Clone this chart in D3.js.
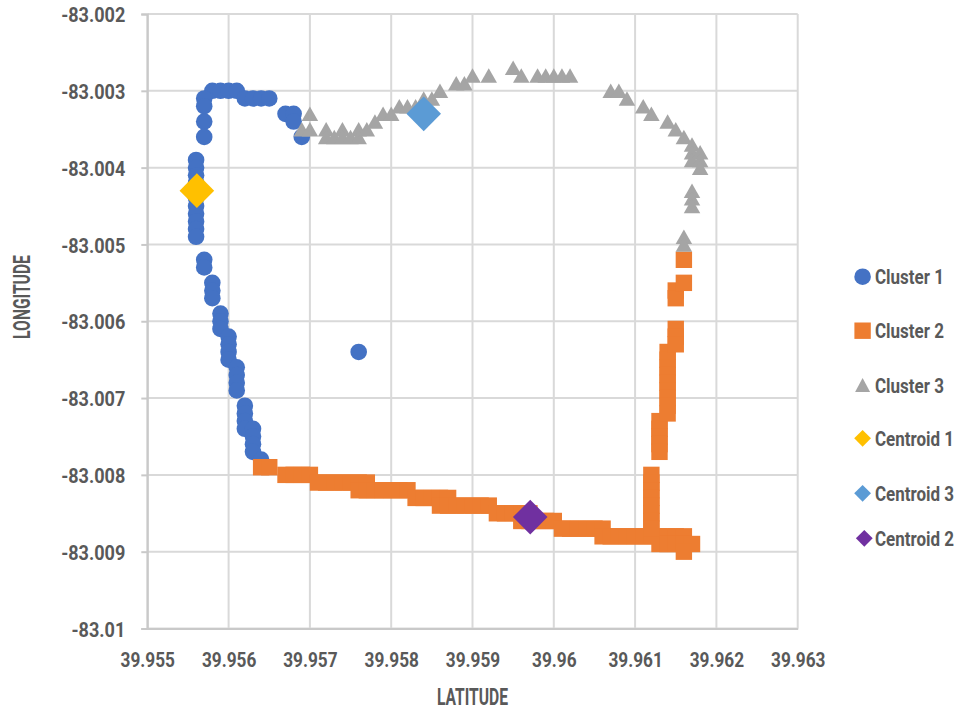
<!DOCTYPE html>
<html>
<head>
<meta charset="utf-8">
<script src="https://cdn.jsdelivr.net/npm/d3@7/dist/d3.min.js"></script>
<style>
  html, body { margin: 0; padding: 0; background: #ffffff; }
  svg text { font-family: Roboto, "Liberation Sans", sans-serif; font-weight: 700; fill: #595959; }
</style>
</head>
<body>
<svg id="chart" width="962" height="711"></svg>
<script>
// GPS fixes as [latitude, longitude]
const cluster1 = [
  [39.9558, -83.0030], [39.9559, -83.0030], [39.9560, -83.0030], [39.9561, -83.0030],
  [39.9557, -83.0031], [39.9562, -83.0031], [39.9563, -83.0031], [39.9564, -83.0031], [39.9565, -83.0031],
  [39.9557, -83.0032], [39.9557, -83.0034], [39.9557, -83.0036],
  [39.9567, -83.0033], [39.9568, -83.0033], [39.9568, -83.0034], [39.9569, -83.0036],
  [39.9556, -83.0039], [39.9556, -83.0040], [39.9556, -83.0041], [39.9556, -83.0042],
  [39.9556, -83.0043], [39.9556, -83.0044], [39.9556, -83.0045], [39.9556, -83.0046],
  [39.9556, -83.0047], [39.9556, -83.0048], [39.9556, -83.0049],
  [39.9557, -83.0052], [39.9557, -83.0053],
  [39.9558, -83.0055], [39.9558, -83.0056], [39.9558, -83.0057],
  [39.9559, -83.0059], [39.9559, -83.0060], [39.9559, -83.0061],
  [39.9560, -83.0062], [39.9560, -83.0063], [39.9560, -83.0064], [39.9560, -83.0065],
  [39.9561, -83.0066], [39.9561, -83.0067], [39.9561, -83.0068], [39.9561, -83.0069],
  [39.9562, -83.0071], [39.9562, -83.0072], [39.9562, -83.0073], [39.9562, -83.0074],
  [39.9563, -83.0074], [39.9563, -83.0075], [39.9563, -83.0076], [39.9563, -83.0077],
  [39.9564, -83.0078],
  [39.9576, -83.0064]
];

const cluster2 = [
  [39.9564, -83.0079], [39.9565, -83.0079],
  [39.9567, -83.0080], [39.9568, -83.0080], [39.9569, -83.0080], [39.9570, -83.0080],
  [39.9571, -83.0081], [39.9572, -83.0081], [39.9573, -83.0081], [39.9574, -83.0081],
  [39.9575, -83.0081], [39.9576, -83.0081], [39.9577, -83.0081],
  [39.9576, -83.0082], [39.9577, -83.0082], [39.9578, -83.0082], [39.9579, -83.0082],
  [39.9580, -83.0082], [39.9581, -83.0082], [39.9582, -83.0082],
  [39.9583, -83.0083], [39.9584, -83.0083], [39.9585, -83.0083], [39.9586, -83.0083], [39.9587, -83.0083],
  [39.9586, -83.0084], [39.9587, -83.0084], [39.9588, -83.0084], [39.9589, -83.0084],
  [39.9590, -83.0084], [39.9591, -83.0084], [39.9592, -83.0084],
  [39.9593, -83.0085], [39.9594, -83.0085], [39.9595, -83.0085], [39.9596, -83.0085], [39.9597, -83.0085],
  [39.9596, -83.0086], [39.9597, -83.0086], [39.9598, -83.0086], [39.9599, -83.0086], [39.9600, -83.0086],
  [39.9601, -83.0087], [39.9602, -83.0087], [39.9603, -83.0087], [39.9604, -83.0087],
  [39.9605, -83.0087], [39.9606, -83.0087],
  [39.9606, -83.0088], [39.9607, -83.0088], [39.9608, -83.0088], [39.9609, -83.0088],
  [39.9610, -83.0088], [39.9611, -83.0088], [39.9612, -83.0088], [39.9613, -83.0088],
  [39.9614, -83.0088], [39.9615, -83.0088], [39.9616, -83.0088],
  [39.9613, -83.0089], [39.9614, -83.0089], [39.9615, -83.0089], [39.9616, -83.0089], [39.9617, -83.0089],
  [39.9616, -83.0090],
  [39.9612, -83.0080], [39.9612, -83.0081], [39.9612, -83.0082], [39.9612, -83.0083],
  [39.9612, -83.0084], [39.9612, -83.0085], [39.9612, -83.0086], [39.9612, -83.0087],
  [39.9613, -83.0073], [39.9613, -83.0074], [39.9613, -83.0075], [39.9613, -83.0076], [39.9613, -83.0077],
  [39.9614, -83.0064], [39.9614, -83.0065], [39.9614, -83.0066], [39.9614, -83.0067], [39.9614, -83.0068],
  [39.9614, -83.0069], [39.9614, -83.0070], [39.9614, -83.0071], [39.9614, -83.0072],
  [39.9615, -83.0061], [39.9615, -83.0062], [39.9615, -83.0063],
  [39.9615, -83.0056], [39.9615, -83.0057],
  [39.9616, -83.0055],
  [39.9616, -83.0052]
];

const cluster3 = [
  [39.9570, -83.0033],
  [39.9569, -83.0035], [39.9570, -83.0035],
  [39.9572, -83.0035], [39.9574, -83.0035], [39.9576, -83.0035],
  [39.9572, -83.0036], [39.9573, -83.0036], [39.9574, -83.0036], [39.9575, -83.0036], [39.9576, -83.0036],
  [39.9577, -83.0035],
  [39.9578, -83.0034],
  [39.9579, -83.0033], [39.9580, -83.0033],
  [39.9581, -83.0032], [39.9582, -83.0032], [39.9583, -83.0032],
  [39.9584, -83.0031], [39.9585, -83.0031],
  [39.9586, -83.0030],
  [39.9588, -83.0029], [39.9589, -83.0029],
  [39.9590, -83.0028], [39.9592, -83.0028],
  [39.9595, -83.0027],
  [39.9596, -83.0028],
  [39.9598, -83.0028], [39.9599, -83.0028], [39.9600, -83.0028], [39.9601, -83.0028], [39.9602, -83.0028],
  [39.9607, -83.0030], [39.9608, -83.0030],
  [39.9609, -83.0031],
  [39.9611, -83.0032],
  [39.9612, -83.0033],
  [39.9614, -83.0034],
  [39.9615, -83.0035],
  [39.9616, -83.0036],
  [39.9617, -83.0037], [39.9617, -83.0038], [39.9617, -83.0039],
  [39.9618, -83.0038], [39.9618, -83.0039], [39.9618, -83.0040],
  [39.9617, -83.0043], [39.9617, -83.0044], [39.9617, -83.0045],
  [39.9616, -83.0049], [39.9616, -83.0050]
];

const centroid1 = [[39.95561, -83.00430]];
const centroid3 = [[39.95840, -83.00330]];
const centroid2 = [[39.95971, -83.00855]];

const seriesNames = ["Cluster 1", "Cluster 2", "Cluster 3", "Centroid 1", "Centroid 3", "Centroid 2"];
const xTickValues = [39.955, 39.956, 39.957, 39.958, 39.959, 39.960, 39.961, 39.962, 39.963];
const xTickLabels = ["39.955", "39.956", "39.957", "39.958", "39.959", "39.96", "39.961", "39.962", "39.963"];
const yTickValues = [-83.002, -83.003, -83.004, -83.005, -83.006, -83.007, -83.008, -83.009, -83.010];
const yTickLabels = ["-83.002", "-83.003", "-83.004", "-83.005", "-83.006", "-83.007", "-83.008", "-83.009", "-83.01"];
const xTitle = "LATITUDE";
const yTitle = "LONGITUDE";

// ---- layout ----
const plot = { left: 147.3, right: 797.7, top: 14, bottom: 628.5 };
const svg = d3.select("#chart");

const x = d3.scaleLinear().domain([39.955, 39.963]).range([plot.left, plot.right]);
const y = d3.scaleLinear().domain([-83.010, -83.002]).range([plot.bottom, plot.top]);

// squeeze a text element horizontally to imitate a condensed face
function condense(sel, k) {
  sel.each(function () {
    const w = this.getComputedTextLength();
    this.setAttribute("textLength", (w * k).toFixed(2));
    this.setAttribute("lengthAdjust", "spacingAndGlyphs");
  });
}

// gridlines
const grid = svg.append("g");
grid.selectAll("line.v").data(xTickValues).join("line")
  .attr("x1", d => x(d)).attr("x2", d => x(d))
  .attr("y1", plot.top).attr("y2", plot.bottom)
  .attr("stroke", "#d9d9d9").attr("stroke-width", 2);
grid.selectAll("line.h").data(yTickValues).join("line")
  .attr("x1", plot.left).attr("x2", plot.right)
  .attr("y1", d => y(d)).attr("y2", d => y(d))
  .attr("stroke", "#d9d9d9").attr("stroke-width", 2);

// axes
const yAxis = svg.append("g")
  .attr("transform", `translate(${plot.left},0)`)
  .call(d3.axisLeft(y).tickValues(yTickValues)
    .tickFormat((d, i) => yTickLabels[i]).tickSize(6).tickPadding(16));
yAxis.selectAll("path, line").attr("stroke", "#c9c9c9").attr("stroke-width", 2);
yAxis.selectAll("text").attr("font-size", 21).attr("fill", "#595959")
  .attr("font-family", "Roboto, sans-serif").attr("font-weight", 700).attr("dy", "0.36em");
condense(yAxis.selectAll("text"), 0.86);

const xAxis = svg.append("g")
  .attr("transform", `translate(0,${plot.bottom})`)
  .call(d3.axisBottom(x).tickValues(xTickValues)
    .tickFormat((d, i) => xTickLabels[i]).tickSize(0).tickSizeOuter(0).tickPadding(31));
xAxis.selectAll("path").attr("stroke", "#c9c9c9").attr("stroke-width", 2);
xAxis.selectAll("text").attr("font-size", 21).attr("fill", "#595959")
  .attr("font-family", "Roboto, sans-serif").attr("font-weight", 700).attr("dy", "0.36em");
condense(xAxis.selectAll("text"), 0.82);

// axis titles
const xt = svg.append("text").text(xTitle)
  .attr("x", (plot.left + plot.right) / 2).attr("y", 705)
  .attr("text-anchor", "middle").attr("font-size", 23);
condense(xt, 0.68);
const yt = svg.append("text").text(yTitle)
  .attr("transform", "translate(30,297) rotate(-90)")
  .attr("text-anchor", "middle").attr("font-size", 23);
condense(yt, 0.68);

// marker shapes
const triPath = (w, h) => `M0,${-h / 2}L${w / 2},${h / 2}L${-w / 2},${h / 2}Z`;
const diamondPath = r => `M0,${-r}L${r},0L0,${r}L${-r},0Z`;

const colors = {
  "Cluster 1": "#4472c4",
  "Cluster 2": "#ed7d31",
  "Cluster 3": "#a5a5a5",
  "Centroid 1": "#ffc000",
  "Centroid 3": "#5b9bd5",
  "Centroid 2": "#7030a0"
};

const marks = svg.append("g");

marks.append("g").selectAll("circle").data(cluster1).join("circle")
  .attr("cx", d => x(d[0])).attr("cy", d => y(d[1])).attr("r", 8.3)
  .attr("fill", colors["Cluster 1"]);

marks.append("g").selectAll("rect").data(cluster2).join("rect")
  .attr("x", d => x(d[0]) - 8.2).attr("y", d => y(d[1]) - 8.2)
  .attr("width", 16.4).attr("height", 16.4)
  .attr("fill", colors["Cluster 2"]);

marks.append("g").selectAll("path").data(cluster3).join("path")
  .attr("transform", d => `translate(${x(d[0])},${y(d[1])})`)
  .attr("d", triPath(16.5, 14.5))
  .attr("fill", colors["Cluster 3"]);

[[centroid1, "Centroid 1"], [centroid3, "Centroid 3"], [centroid2, "Centroid 2"]].forEach(([pts, name]) => {
  marks.append("g").selectAll("path").data(pts).join("path")
    .attr("transform", d => `translate(${x(d[0])},${y(d[1])})`)
    .attr("d", diamondPath(17.3))
    .attr("fill", colors[name]);
});

// legend: a smaller face stretched vertically keeps the narrow, tall look
const legendRows = [276.7, 330.7, 385, 438.3, 493.3, 538.3];
const legend = svg.append("g");
seriesNames.forEach((name, i) => {
  const cy = legendRows[i];
  const cx = i === 5 ? 864.3 : 862.6;
  const g = legend.append("g").attr("transform", `translate(${cx},${cy})`);
  if (i === 0) g.append("circle").attr("r", 8.3).attr("fill", colors[name]);
  else if (i === 1) g.append("rect").attr("x", -8.2).attr("y", -8.2).attr("width", 16.4).attr("height", 16.4).attr("fill", colors[name]);
  else if (i === 2) g.append("path").attr("d", triPath(15, 14)).attr("fill", colors[name]);
  else g.append("path").attr("d", diamondPath(8.4)).attr("fill", colors[name]);
  legend.append("text").text(name)
    .attr("transform", `translate(875,${cy}) scale(1,1.24)`)
    .attr("dy", "0.36em").attr("font-size", 17);
});
</script>
</body>
</html>
